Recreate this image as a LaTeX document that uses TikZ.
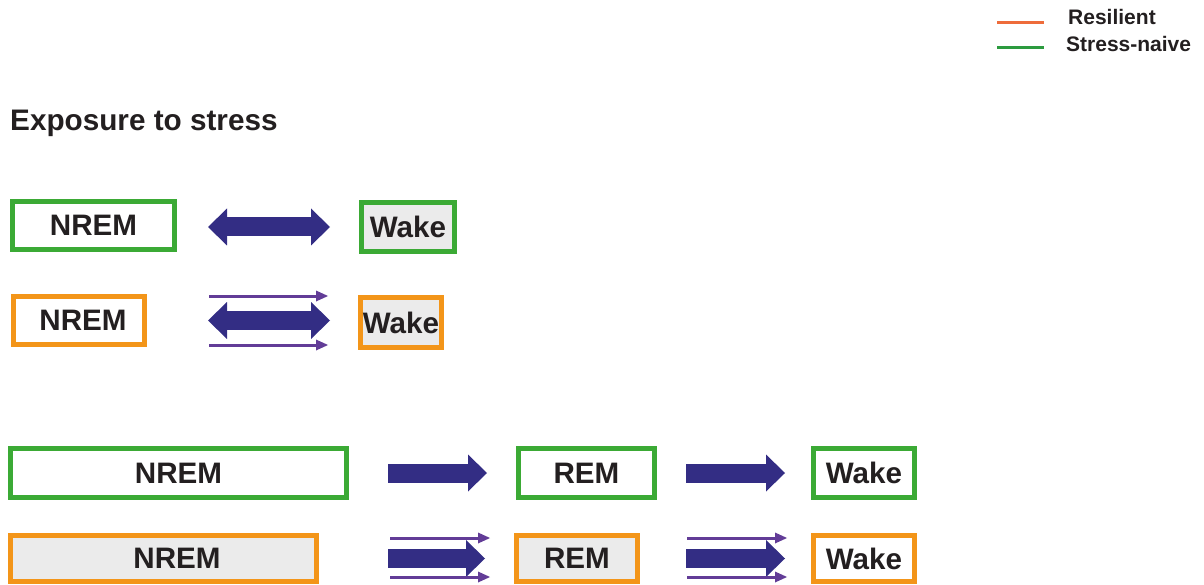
\documentclass[tikz,border=0pt]{standalone}
\usepackage{fontspec}
\setmainfont{Liberation Sans}
\usetikzlibrary{arrows.meta,calc}
\definecolor{gbox}{HTML}{3BAA35}
\definecolor{obox}{HTML}{F39519}
\definecolor{navy}{HTML}{332D84}
\definecolor{purp}{HTML}{623C97}
\definecolor{boxfill}{HTML}{EBEBEB}
\definecolor{txt}{HTML}{231F20}
\definecolor{legor}{HTML}{EE6C3B}
\definecolor{leggr}{HTML}{2C9B3F}
\begin{document}
\begin{tikzpicture}[x=1pt,y=-1pt,
  box/.style={draw, line width=5pt, inner sep=0pt, text=txt, font=\fontsize{29.6}{31}\selectfont\bfseries},
  gr/.style={box, draw=gbox, fill=white},
  orr/.style={box, draw=obox, fill=white},
  grey/.style={fill=boxfill},
  big/.style={draw=navy, line width=19pt, -{Triangle[length=19pt,width=37pt,line width=0pt]}},
  bigboth/.style={draw=navy, line width=19pt, {Triangle[length=19pt,width=37pt,line width=0pt]}-{Triangle[length=19pt,width=37pt,line width=0pt]}},
  thinarr/.style={draw=purp, line width=3pt, -{Triangle[length=12pt,width=11pt,line width=0pt]}},
  legtext/.style={anchor=base west, inner sep=0pt, text=txt, font=\fontsize{21}{24}\selectfont\bfseries},
]
\useasboundingbox (0,0) rectangle (1204,585);

% legend
\draw[legor, line width=3pt] (997,23) -- (1044,23);
\draw[leggr, line width=3pt] (997,48) -- (1044,48);
\node[legtext] (l1) at (1068,25) {Resilient};
\node[legtext] (l2) at (1066,52) {Stress-naive};

% title
\node[anchor=base west, inner sep=0pt, text=txt, font=\fontsize{29.7}{32}\selectfont\bfseries] (title) at (10,131) {Exposure to stress};

% row 1
\node[gr, minimum width=162pt, minimum height=48pt] (n1) at (93.5,225.5) {NREM};
\node[gr, grey, minimum width=93pt, minimum height=49pt] (w1) at (408,227) {Wake};
\draw[bigboth, shorten <=31pt, shorten >=29pt] (n1.east |- w1.west) -- (w1.west);

% row 2
\node[orr, minimum width=131pt, minimum height=48pt] (n2) at (79,320.5) {\hspace*{8pt}NREM};
\node[orr, grey, minimum width=81pt, minimum height=50pt] (w2) at (401,322.5) {Wake};
\draw[bigboth, shorten <=61pt, shorten >=28pt] (n2.east) -- (n2.east -| w2.west);
\draw[thinarr, shorten <=62pt, shorten >=30pt] ($(n2.east)+(0,-24.5)$) -- ($(n2.east -| w2.west)+(0,-24.5)$);
\draw[thinarr, shorten <=62pt, shorten >=30pt] ($(n2.east)+(0,24.5)$) -- ($(n2.east -| w2.west)+(0,24.5)$);

% row 3
\node[gr, minimum width=336pt, minimum height=49pt] (n3) at (178.5,473) {NREM};
\node[gr, minimum width=136pt, minimum height=49pt] (r3) at (586.5,473) {REM};
\node[gr, minimum width=101pt, minimum height=49pt] (w3) at (864,473) {Wake};
\draw[big, shorten <=39pt, shorten >=29pt] (n3) -- (r3);
\draw[big, shorten <=29pt, shorten >=26pt] (r3) -- (w3);

% row 4
\node[orr, grey, minimum width=306pt, minimum height=46pt] (n4) at (163.5,558.5) {\hspace*{27pt}NREM};
\node[orr, grey, minimum width=121pt, minimum height=46pt] (r4) at (577,558.5) {REM};
\node[orr, minimum width=101pt, minimum height=46pt] (w4) at (864,558.5) {Wake};
\draw[big, shorten <=69pt, shorten >=29pt] (n4) -- (r4);
\draw[thinarr, shorten <=71pt, shorten >=24pt] ($(n4.east)+(0,-20.5)$) -- ($(n4.east -| r4.west)+(0,-20.5)$);
\draw[thinarr, shorten <=71pt, shorten >=24pt] ($(n4.east)+(0,18.5)$) -- ($(n4.east -| r4.west)+(0,18.5)$);
\draw[big, shorten <=46pt, shorten >=26pt] (r4) -- (w4);
\draw[thinarr, shorten <=47pt, shorten >=24pt] ($(r4.east)+(0,-20.5)$) -- ($(r4.east -| w4.west)+(0,-20.5)$);
\draw[thinarr, shorten <=47pt, shorten >=24pt] ($(r4.east)+(0,18.5)$) -- ($(r4.east -| w4.west)+(0,18.5)$);
\end{tikzpicture}
\end{document}
